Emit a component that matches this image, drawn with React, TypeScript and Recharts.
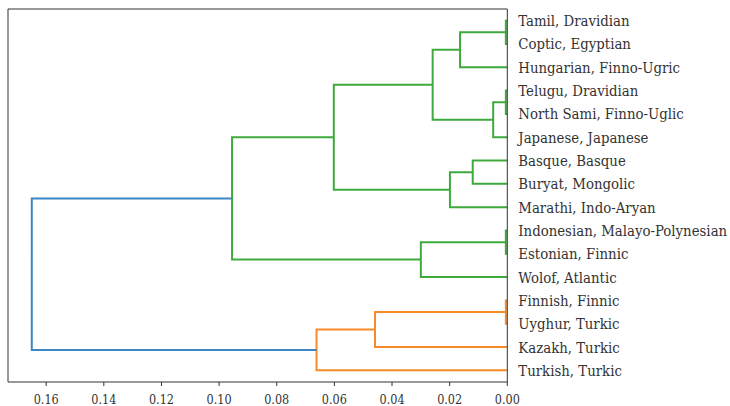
import { LineChart, Line, XAxis, YAxis, ReferenceLine } from 'recharts'

// leaves, top to bottom
const LEAVES = [
  'Tamil, Dravidian',
  'Coptic, Egyptian',
  'Hungarian, Finno-Ugric',
  'Telugu, Dravidian',
  'North Sami, Finno-Uglic',
  'Japanese, Japanese',
  'Basque, Basque',
  'Buryat, Mongolic',
  'Marathi, Indo-Aryan',
  'Indonesian, Malayo-Polynesian',
  'Estonian, Finnic',
  'Wolof, Atlantic',
  'Finnish, Finnic',
  'Uyghur, Turkic',
  'Kazakh, Turkic',
  'Turkish, Turkic',
]

// merges: node ids 0..15 are leaves, merge k gets id 16 + k
const MERGE_A = [0, 16, 3, 18, 17, 6, 21, 20, 9, 24, 23, 12, 27, 28, 26]
const MERGE_B = [1, 2, 4, 5, 19, 7, 8, 22, 10, 11, 25, 13, 14, 15, 29]
const MERGE_HEIGHT = [0.0005, 0.0164, 0.0005, 0.0049, 0.0259, 0.012, 0.0199, 0.0602, 0.0005, 0.030, 0.0955, 0.0005, 0.0459, 0.0662, 0.165]
const MERGE_GROUP = ['g', 'g', 'g', 'g', 'g', 'g', 'g', 'g', 'g', 'g', 'g', 'o', 'o', 'o', 'b']

const X_TICKS = [0, 0.02, 0.04, 0.06, 0.08, 0.1, 0.12, 0.14, 0.16]

const COLORS: Record<string, string> = { g: '#3eaa3e', o: '#f98a2a', b: '#3a86c6' }
const X_MAX = 0.165 * 1.05
const Y_MAX = LEAVES.length * 10
const FONT = "'DejaVu Serif Condensed', 'DejaVu Serif'"

type Pt = { x: number; y: number }

const pos: Pt[] = LEAVES.map((_, i) => ({ x: 0, y: Y_MAX - 5 - i * 10 }))
const links = MERGE_HEIGHT.map((h, k) => {
  const a = pos[MERGE_A[k]]
  const b = pos[MERGE_B[k]]
  pos.push({ x: h, y: (a.y + b.y) / 2 })
  return {
    color: COLORS[MERGE_GROUP[k]],
    points: [
      { x: a.x, y: a.y },
      { x: h, y: a.y },
      { x: h, y: b.y },
      { x: b.x, y: b.y },
    ],
  }
})

const leafTicks = LEAVES.map((_, i) => Y_MAX - 5 - i * 10)
const leafLabel = (v: number) => LEAVES[Math.round((Y_MAX - 5 - v) / 10)] ?? ''

const XTick = ({ x, y, payload }: any) => (
  <text x={x} y={y} dy={12.5} textAnchor="middle" fill="#333" fontSize={12.5} fontFamily={FONT} fontStretch="condensed">
    {Number(payload.value).toFixed(2)}
  </text>
)

const YTick = ({ x, y, payload }: any) => (
  <text x={x} y={y} dy={5.5} textAnchor="start" fill="#333" fontSize={14.8} fontFamily={FONT} fontStretch="condensed">
    {leafLabel(payload.value)}
  </text>
)

export default function App() {
  return (
    <div style={{ position: 'absolute', left: 0, top: 0, width: 730, height: 406, background: '#fff' }}>
      <LineChart width={730} height={406} margin={{ top: 9, right: 0, bottom: 0, left: 8 }}>
        <XAxis
          type="number"
          dataKey="x"
          domain={[0, X_MAX]}
          reversed
          allowDataOverflow
          ticks={X_TICKS}
          height={24}
          tickSize={4}
          tickMargin={5}
          stroke="#333"
          tick={<XTick />}
        />
        <YAxis
          type="number"
          orientation="right"
          domain={[0, Y_MAX]}
          allowDataOverflow
          ticks={leafTicks}
          interval={0}
          width={222.7}
          tickLine={false}
          tickSize={6}
          tickMargin={5}
          stroke="#333"
          tick={<YTick />}
        />
        <ReferenceLine x={X_MAX} stroke="#333" strokeWidth={1} />
        <ReferenceLine y={Y_MAX} stroke="#333" strokeWidth={1} />
        {links.map((l, i) => (
          <Line
            key={i}
            data={l.points}
            dataKey="y"
            type="linear"
            stroke={l.color}
            strokeWidth={2}
            dot={false}
            activeDot={false}
            isAnimationActive={false}
          />
        ))}
      </LineChart>
    </div>
  )
}
